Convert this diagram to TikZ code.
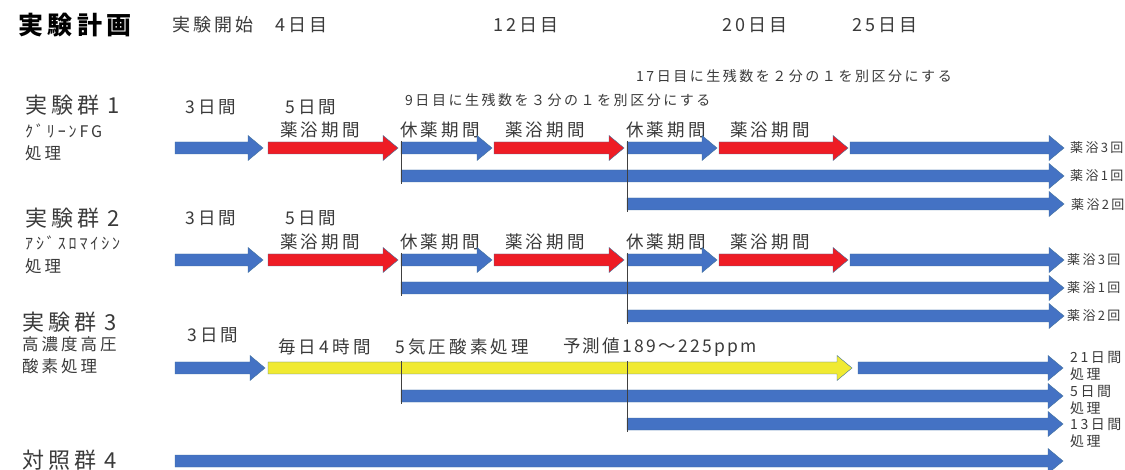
\documentclass[tikz,border=0pt]{standalone}
\usepackage{fontspec}
\setmainfont{Noto Sans CJK JP}[LetterSpace=18]
\definecolor{arrblue}{HTML}{4472C4}
\definecolor{arrred}{HTML}{EE1C25}
\definecolor{arryel}{HTML}{F0EA32}
\definecolor{arrline}{HTML}{41719C}
\definecolor{txt}{HTML}{3A3A3A}
\newcommand\blkarrow[4]{%
  \path[#1] (#2,{#4-6}) -- ({#3-15},{#4-6}) -- ({#3-15},{#4-12.5}) -- (#3,#4)
    -- ({#3-15},{#4+12.5}) -- ({#3-15},{#4+6}) -- (#2,{#4+6}) -- cycle;}
\begin{document}
\begin{tikzpicture}[x=1pt,y=-1pt,
  every node/.style={inner sep=0pt, anchor=west, text=txt},
  bluearr/.style={fill=arrblue, draw=arrline, line width=0.4pt},
  redarr/.style={fill=arrred, draw=arrline, line width=0.4pt},
  yelarr/.style={fill=arryel, draw=arrline, line width=0.4pt},
  divider/.style={draw=black!75, line width=0.7pt},
  title/.style={font=\fontsize{25}{30}\selectfont\bfseries, text=black},
  daytxt/.style={font=\fontsize{18}{22}\selectfont},
  note/.style={font=\fontsize{14}{17}\selectfont},
  grp/.style={font=\fontsize{22}{26}\selectfont},
  sub/.style={font=\fontsize{16}{19}\selectfont},
  sub2/.style={font=\fontsize{16.5}{20}\selectfont},
  per/.style={font=\fontsize{17.5}{21}\selectfont},
  pernarrow/.style={font=\fontsize{17.5}{21}\selectfont\addfontfeature{LetterSpace=13}},
  endlab/.style={font=\fontsize{13}{16}\selectfont},
  endlab2/.style={font=\fontsize{14}{17}\selectfont}]
\useasboundingbox (0,0) rectangle (1125,470);

% header
\node[title] (ttl) at (18,25) {実験計画};
\node[daytxt] (d0) at (172,25) {実験開始};
\node[daytxt] (d4) at (275,25) {4日目};
\node[daytxt] (d12) at (493,25) {12日目};
\node[daytxt] (d20) at (722,25) {20日目};
\node[daytxt] (d25) at (852,25) {25日目};
\node[note] (n17) at (636,76) {17日目に生残数を２分の１を別区分にする};
\node[note] (n9) at (405,100) {9日目に生残数を３分の１を別区分にする};

% group 1
\node[grp] (g1) at (25,105) {実験群 1};
\node[sub] (g1a) at (25,131) {ｸﾞﾘｰﾝFG};
\node[sub2] (g1b) at (25,153) {処理};
\node[per] (g1d3) at (185,107) {3日間};
\node[per] (g1d5) at (285,107) {5日間};
\node[per] (g1p1) at (280,130) {薬浴期間};
\node[per] (g1p2) at (400,130) {休薬期間};
\node[per] (g1p3) at (505,130) {薬浴期間};
\node[per] (g1p4) at (626,130) {休薬期間};
\node[per] (g1p5) at (730,130) {薬浴期間};
\blkarrow{bluearr}{175}{263}{148}
\blkarrow{redarr}{268}{398}{148}
\blkarrow{bluearr}{401}{492}{148}
\blkarrow{redarr}{494}{624}{148}
\blkarrow{bluearr}{627}{717}{148}
\blkarrow{redarr}{719}{848}{148}
\blkarrow{bluearr}{850}{1064}{148}
\blkarrow{bluearr}{401}{1064}{176}
\blkarrow{bluearr}{627}{1064}{204}
\draw[divider] (401,141) -- (401,184);
\draw[divider] (627,141) -- (627,212);
\node[endlab] (g1e1) at (1070,148) {薬浴3回};
\node[endlab] (g1e2) at (1070,176) {薬浴1回};
\node[endlab] (g1e3) at (1071,205) {薬浴2回};

% group 2
\node[grp] (g2) at (25,218) {実験群 2};
\node[sub] (g2a) at (25,243) {ｱｼﾞｽﾛﾏｲｼﾝ};
\node[sub2] (g2b) at (25,266) {処理};
\node[per] (g2d3) at (185,218) {3日間};
\node[per] (g2d5) at (285,218) {5日間};
\node[per] (g2p1) at (280,242) {薬浴期間};
\node[per] (g2p2) at (400,242) {休薬期間};
\node[per] (g2p3) at (505,242) {薬浴期間};
\node[per] (g2p4) at (626,242) {休薬期間};
\node[per] (g2p5) at (730,242) {薬浴期間};
\blkarrow{bluearr}{175}{263}{260}
\blkarrow{redarr}{268}{398}{260}
\blkarrow{bluearr}{401}{492}{260}
\blkarrow{redarr}{494}{624}{260}
\blkarrow{bluearr}{627}{717}{260}
\blkarrow{redarr}{719}{848}{260}
\blkarrow{bluearr}{850}{1064}{260}
\blkarrow{bluearr}{401}{1064}{288}
\blkarrow{bluearr}{627}{1064}{316}
\draw[divider] (401,253) -- (401,296);
\draw[divider] (627,253) -- (627,324);
\node[endlab] (g2e1) at (1067,260) {薬浴3回};
\node[endlab] (g2e2) at (1067,288) {薬浴1回};
\node[endlab] (g2e3) at (1067,316) {薬浴2回};

% group 3
\node[grp] (g3) at (22,322) {実験群 3};
\node[sub2] (g3a) at (22,344) {高濃度高圧};
\node[sub2] (g3b) at (22,366) {酸素処理};
\node[per] (g3d3) at (187,335) {3日間};
\node[per] (g3t1) at (278,347) {毎日4時間};
\node[per] (g3t2) at (395,347) {5気圧酸素処理};
\node[pernarrow] (g3t3) at (563,347) {予測値189～225ppm};
\blkarrow{bluearr}{175}{265}{368}
\blkarrow{yelarr}{268}{852}{368}
\blkarrow{bluearr}{858}{1063}{368}
\blkarrow{bluearr}{401}{1063}{396}
\blkarrow{bluearr}{627}{1063}{424}
\draw[divider] (401,361) -- (401,404);
\draw[divider] (627,361) -- (627,432);
\node[endlab2, align=left] (g3e1) at (1070,366) {21日間\\処理};
\node[endlab2, align=left] (g3e2) at (1070,400) {5日間\\処理};
\node[endlab2, align=left] (g3e3) at (1070,433) {13日間\\処理};

% group 4
\node[grp] (g4) at (22,460) {対照群 4};
\blkarrow{bluearr}{175}{1063}{461}
\end{tikzpicture}
\end{document}
